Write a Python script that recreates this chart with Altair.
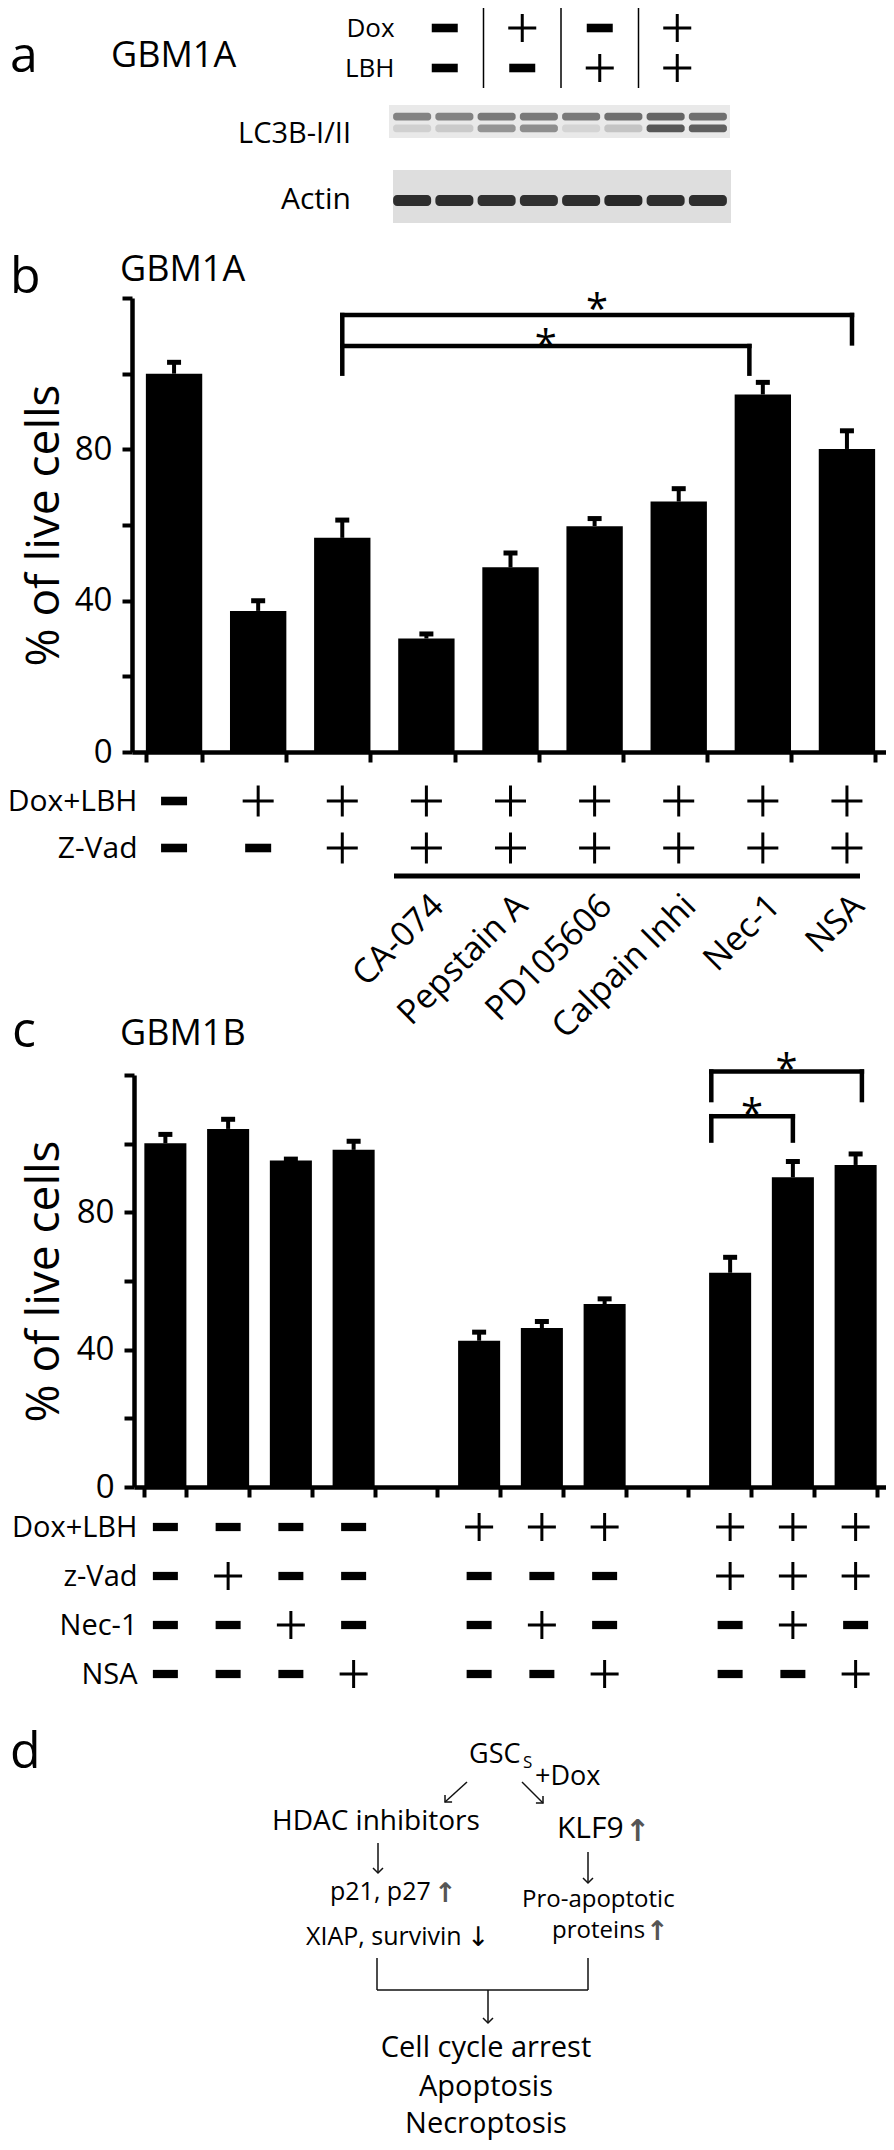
import altair as alt
import pandas as pd

FONT = "Open Sans"
ARROW_FONT = "DejaVu Sans"
W, H = 878, 2134
MARGIN = 8


def g(v):
    """page pixel -> chart pixel"""
    return v - MARGIN


# ======================= DATA =======================
# panel a : western blot
a_columns = ["c1", "c2", "c3", "c4"]
a_dox = ["-", "+", "-", "+"]
a_lbh = ["-", "-", "+", "+"]
a_lanes = [1, 2, 3, 4, 5, 6, 7, 8]
lc3b_i_density = [0.50, 0.50, 0.55, 0.55, 0.55, 0.60, 0.65, 0.60]
lc3b_ii_density = [0.12, 0.15, 0.42, 0.45, 0.10, 0.18, 0.72, 0.68]
actin_density = [0.92, 0.92, 0.90, 0.90, 0.92, 0.95, 0.92, 0.92]

# panel b : GBM1A
b_conditions = ["Control", "Dox+LBH", "Dox+LBH+Z-Vad", "CA-074", "Pepstain A",
                "PD105606", "Calpain Inhi", "Nec-1", "NSA"]
b_live = [100.0, 37.3, 56.6, 30.0, 48.8, 59.7, 66.2, 94.5, 80.1]
b_err = [3.0, 2.7, 4.7, 1.2, 3.8, 2.0, 3.4, 3.2, 4.8]
b_dox_lbh = ["-", "+", "+", "+", "+", "+", "+", "+", "+"]
b_zvad = ["-", "-", "+", "+", "+", "+", "+", "+", "+"]
b_inhibitor = ["", "", "", "CA-074", "Pepstain A", "PD105606", "Calpain Inhi", "Nec-1", "NSA"]
# (from, to, bracket top, leg bottom, star height)
b_brackets = [("Dox+LBH+Z-Vad", "NSA", 115.5, 108.0, 119.5),
              ("Dox+LBH+Z-Vad", "Nec-1", 107.3, 100.0, 110.0)]

# panel c : GBM1B
c_conditions = ["Ctrl", "zVad", "Nec1", "NSA", "gap1", "DL", "DL+Nec1", "DL+NSA",
                "gap2", "DL+zVad", "DL+zVad+Nec1", "DL+zVad+NSA"]
c_live = [100.1, 104.3, 95.1, 98.2, None, 42.6, 46.3, 53.3, None, 62.4, 90.2, 93.8]
c_err = [2.6, 2.8, 0.4, 2.5, None, 2.5, 1.9, 1.5, None, 4.5, 4.6, 3.2]
c_dox_lbh = ["-", "-", "-", "-", "", "+", "+", "+", "", "+", "+", "+"]
c_zvad = ["-", "+", "-", "-", "", "-", "-", "-", "", "+", "+", "+"]
c_nec1 = ["-", "-", "+", "-", "", "-", "+", "-", "", "-", "+", "-"]
c_nsa = ["-", "-", "-", "+", "", "-", "-", "+", "", "-", "-", "+"]
c_brackets = [("DL+zVad", "DL+zVad+NSA", 121.0, 112.7, 124.4),
              ("DL+zVad", "DL+zVad+Nec1", 108.0, 100.9, 111.3)]

# ======================= HELPERS =======================
PLUS_PATH = "M-1,0L1,0M0,-1L0,1"
HEAD_PATH = "M-1,-1L0,0L1,-1"


def minus_path(r=0.33):
    return f"M-1,{-r}L1,{-r}L1,{r}L-1,{r}Z"


def text_layer(rows, align="left", baseline="alphabetic", font=FONT, weight="normal", color="black"):
    df = pd.DataFrame(rows, columns=["t", "px", "py", "fs"])
    df["gx"] = df["px"] - MARGIN
    df["gy"] = df["py"] - MARGIN
    return alt.Chart(df).mark_text(align=align, baseline=baseline, font=font,
                                   fontWeight=weight, color=color).encode(
        x=alt.X("gx:Q", scale=None, axis=None),
        y=alt.Y("gy:Q", scale=None, axis=None),
        text="t:N",
        size=alt.Size("fs:Q", scale=None),
    )


def sign_table(cats, rows, x_range, y_range, label_x, plus_w, minus_w, label_size):
    recs = []
    for name, signs in rows:
        for c, s in zip(cats, signs):
            recs.append({"cond": c, "row": name, "sign": s})
    df = pd.DataFrame(recs)
    xs = alt.Scale(domain=cats, range=[g(x_range[0]), g(x_range[1])], paddingInner=0, paddingOuter=0)
    ys = alt.Scale(domain=[r[0] for r in rows], range=[g(y_range[0]), g(y_range[1])],
                   paddingInner=0, paddingOuter=0)
    label_axis = alt.Axis(orient="left", offset=-g(label_x), domain=False, ticks=False, tickSize=0,
                          labelPadding=0, labelFontSize=label_size, labelFont=FONT,
                          labelColor="black", title=None, labelLimit=0)
    base = alt.Chart(df)
    minus = base.transform_filter("datum.sign == '-'").mark_point(
        shape=minus_path(), filled=True, size=minus_w ** 2, color="black", opacity=1, strokeWidth=0
    ).encode(x=alt.X("cond:N", scale=xs, axis=None), y=alt.Y("row:N", scale=ys, axis=label_axis))
    plus = base.transform_filter("datum.sign == '+'").mark_point(
        shape=PLUS_PATH, filled=False, size=plus_w ** 2, color="black", opacity=1, strokeWidth=3
    ).encode(x=alt.X("cond:N", scale=xs, axis=None), y=alt.Y("row:N", scale=ys, axis=None))
    return [minus, plus], xs


def bar_panel(cats, live, err, brackets, nudges, L):
    xr = [g(L["axis_x"]), g(L["x_end"])]
    yr = [g(L["y0"]), g(L["y120"])]
    xs = alt.Scale(domain=cats, range=xr, paddingInner=0.33, paddingOuter=0.165)
    xq = alt.Scale(domain=[0, len(cats)], range=xr, nice=False, zero=False)
    ys = alt.Scale(domain=[0, 120], range=yr, nice=False, zero=False)
    df = pd.DataFrame({"cond": cats, "live": live, "err": err}).dropna()
    df["hi"] = df["live"] + df["err"]

    yaxis = alt.Axis(orient="left", offset=-g(L["axis_x"]), values=list(range(0, 121, 20)),
                     labelExpr="datum.value % 40 == 0 && datum.value < 120 ? datum.label : ''",
                     labelFontSize=33, labelPadding=10, tickSize=10, tickWidth=4, domainWidth=4.5,
                     title="% of live cells", titleFontSize=46, titleFontWeight="normal",
                     titleAngle=270, titleAlign="center", titleBaseline="alphabetic",
                     titleX=-(L["axis_x"] - 58), titleY=g((L["y0"] + L["y120"]) / 2), grid=False)
    xaxis = alt.Axis(orient="bottom", offset=g(L["y0"]) - H, labels=False, tickBand="extent",
                     tickSize=10, tickWidth=4, domainWidth=4.5, title=None, grid=False)

    bars = alt.Chart(df).mark_bar(color="black").encode(
        x=alt.X("cond:N", scale=xs, axis=xaxis),
        y=alt.Y("live:Q", scale=ys, axis=yaxis),
    )
    stems = alt.Chart(df).mark_rule(color="black", strokeWidth=4).encode(
        x=alt.X("cond:N", scale=xs, axis=None),
        y=alt.Y("live:Q", scale=ys, axis=None),
        y2="hi:Q",
    )
    caps = alt.Chart(df).mark_tick(color="black", thickness=5, size=14, opacity=1).encode(
        x=alt.X("cond:N", scale=xs, axis=None),
        y=alt.Y("hi:Q", scale=ys, axis=None),
    )

    segs, stars = [], []
    for (left, right, top, bottom, star), (nl, nr) in zip(brackets, nudges):
        xl = cats.index(left) + 0.5 + nl
        xr_ = cats.index(right) + 0.5 + nr
        segs.append({"x1": xl, "x2": xr_, "y1": top, "y2": top})
        segs.append({"x1": xl, "x2": xl, "y1": top, "y2": bottom})
        segs.append({"x1": xr_, "x2": xr_, "y1": top, "y2": bottom})
        stars.append({"x": (xl + xr_) / 2, "y": star, "t": "*"})
    seg_layer = alt.Chart(pd.DataFrame(segs)).mark_rule(color="black", strokeWidth=4.5, strokeCap="square").encode(
        x=alt.X("x1:Q", scale=xq, axis=None), x2="x2:Q",
        y=alt.Y("y1:Q", scale=ys, axis=None), y2="y2:Q",
    )
    star_layer = alt.Chart(pd.DataFrame(stars)).mark_text(
        font=FONT, fontSize=40, color="black", align="center", baseline="alphabetic", dy=23
    ).encode(
        x=alt.X("x:Q", scale=xq, axis=None),
        y=alt.Y("y:Q", scale=ys, axis=None),
        text="t:N",
    )
    return [bars, stems, caps, seg_layer, star_layer], xs


layers = []

# ======================= PANEL A =======================
one = pd.DataFrame({"k": [0]})
layers.append(alt.Chart(one).mark_rect(color="#e9e9e9").encode(
    x=alt.value(g(389)), x2=alt.value(g(730)), y=alt.value(g(105)), y2=alt.value(g(138))))
layers.append(alt.Chart(one).mark_rect(color="#dedede").encode(
    x=alt.value(g(393)), x2=alt.value(g(731)), y=alt.value(g(170)), y2=alt.value(g(223))))

lane_scale = alt.Scale(domain=a_lanes, range=[g(391), g(729)], paddingInner=0.1, paddingOuter=0.05)
lc3b_df = pd.DataFrame(
    [{"lane": l, "band": "LC3B-I", "d": d} for l, d in zip(a_lanes, lc3b_i_density)]
    + [{"lane": l, "band": "LC3B-II", "d": d} for l, d in zip(a_lanes, lc3b_ii_density)]
)
layers.append(alt.Chart(lc3b_df).mark_rect(color="#1e1e1e", cornerRadius=3).encode(
    x=alt.X("lane:O", scale=lane_scale, axis=None),
    y=alt.Y("band:N", scale=alt.Scale(domain=["LC3B-I", "LC3B-II"], range=[g(111), g(134)],
                                      paddingInner=0.35, paddingOuter=0.15), axis=None),
    opacity=alt.Opacity("d:Q", scale=None),
))
actin_df = pd.DataFrame({"lane": a_lanes, "band": "Actin", "d": actin_density})
layers.append(alt.Chart(actin_df).mark_rect(color="#1e1e1e", cornerRadius=4).encode(
    x=alt.X("lane:O", scale=lane_scale, axis=None),
    y=alt.Y("band:N", scale=alt.Scale(domain=["Actin"], range=[g(195), g(206)],
                                      paddingInner=0, paddingOuter=0), axis=None),
    opacity=alt.Opacity("d:Q", scale=None),
))

a_sign_layers, a_xs = sign_table(a_columns, [("Dox", a_dox), ("LBH", a_lbh)],
                                 (406, 716), (8, 88), 394, 28, 26, 26)
layers += a_sign_layers
layers.append(alt.Chart(pd.DataFrame({"col": a_columns[:-1]})).mark_rule(color="black", strokeWidth=1.5).encode(
    x=alt.X("col:N", scale=a_xs, axis=None, bandPosition=1),
    y=alt.value(g(0)), y2=alt.value(g(88)),
))

# ======================= PANEL B =======================
LB = dict(axis_x=132, x_end=889, y0=752, y120=298)
b_layers, b_xs = bar_panel(b_conditions, b_live, b_err, b_brackets, [(0, 0.06), (0, -0.16)], LB)
layers += b_layers
b_tab, _ = sign_table(b_conditions, [("Dox+LBH", b_dox_lbh), ("Z-Vad", b_zvad)],
                      (132, 889), (777.5, 871.5), 137, 31, 26, 30)
layers += b_tab
layers.append(alt.Chart(one).mark_rule(color="black", strokeWidth=5).encode(
    x=alt.value(g(394)), x2=alt.value(g(860)), y=alt.value(g(876))))
inh_df = pd.DataFrame({"cond": b_conditions, "label": b_inhibitor})
inh_df = inh_df[inh_df["label"] != ""]
layers.append(alt.Chart(inh_df).mark_text(
    font=FONT, fontSize=34, color="black", angle=315, align="right", baseline="middle", xOffset=12
).encode(
    x=alt.X("cond:N", scale=b_xs, axis=None),
    y=alt.value(g(901)),
    text="label:N",
))

# ======================= PANEL C =======================
LC = dict(axis_x=134, x_end=887, y0=1487, y120=1075)
c_layers, c_xs = bar_panel(c_conditions, c_live, c_err, c_brackets, [(-0.3, 0.1), (-0.3, 0.0)], LC)
layers += c_layers
c_tab, _ = sign_table(c_conditions,
                      [("Dox+LBH", c_dox_lbh), ("z-Vad", c_zvad), ("Nec-1", c_nec1), ("NSA", c_nsa)],
                      (134, 887), (1502.5, 1698.5), 137, 28, 25, 29)
layers += c_tab

# ======================= TEXT LABELS =======================
layers.append(text_layer([
    ("a", 10, 72, 50), ("b", 10, 293, 50), ("c", 12, 1047, 50), ("d", 10, 1768, 50),
    ("GBM1A", 111, 67, 36), ("GBM1A", 120, 281, 36), ("GBM1B", 120, 1045, 36),
]))
layers.append(text_layer([("LC3B-I/II", 351, 134, 29), ("Actin", 351, 200, 30)],
                         align="right", baseline="middle"))

# ======================= PANEL D (diagram) =======================
layers.append(text_layer([
    ("GSC", 469, 1763, 27), ("S", 523, 1768, 17), ("+Dox", 535, 1785, 27),
    ("HDAC inhibitors", 272, 1830, 28), ("KLF9", 557, 1838, 30),
    ("p21, p27", 330, 1900, 25), ("XIAP, survivin", 306, 1945, 25),
    ("Pro-apoptotic", 522, 1907, 24), ("proteins", 552, 1938, 24),
]))
layers.append(text_layer([
    ("Cell cycle arrest", 486, 2057, 29), ("Apoptosis", 486, 2096, 29), ("Necroptosis", 486, 2133, 29),
], align="center"))
layers.append(text_layer([("\u2191", 625, 1841, 30), ("\u2191", 434, 1902, 27), ("\u2191", 646, 1940, 27)],
                         font=ARROW_FONT, weight="bold", color="#555555"))
layers.append(text_layer([("\u2193", 467, 1946, 27)], font=ARROW_FONT, color="black"))

line_rows = [
    (467, 1782, 445, 1802), (522, 1782, 543, 1803),
    (378, 1843, 378, 1873), (588, 1852, 588, 1883),
    (377, 1958, 377, 1990), (588, 1958, 588, 1990), (377, 1990, 588, 1990),
    (488, 1990, 488, 2023),
]
lines_df = pd.DataFrame(line_rows, columns=["x1", "y1", "x2", "y2"]) - MARGIN
layers.append(alt.Chart(lines_df).mark_rule(color="#111111", strokeWidth=1.5).encode(
    x=alt.X("x1:Q", scale=None, axis=None), x2="x2:Q",
    y=alt.Y("y1:Q", scale=None, axis=None), y2="y2:Q",
))
heads_df = pd.DataFrame([(445, 1802, 45), (543, 1803, 315), (378, 1873, 0), (588, 1883, 0), (488, 2023, 0)],
                        columns=["x", "y", "a"])
heads_df["x"] = heads_df["x"] - MARGIN
heads_df["y"] = heads_df["y"] - MARGIN
layers.append(alt.Chart(heads_df).mark_point(shape=HEAD_PATH, filled=False, size=100, color="#111111",
                                             strokeWidth=1.5, opacity=1).encode(
    x=alt.X("x:Q", scale=None, axis=None),
    y=alt.Y("y:Q", scale=None, axis=None),
    angle=alt.Angle("a:Q", scale=None),
))

chart = alt.layer(*layers).properties(
    width=W, height=H, autosize="none", padding=0
).resolve_scale(
    x="independent", y="independent", size="independent", opacity="independent", angle="independent"
).resolve_axis(
    x="independent", y="independent"
).configure_view(stroke=None).configure_axis(
    grid=False, domainColor="black", tickColor="black", labelColor="black", titleColor="black",
    labelFont=FONT, titleFont=FONT
)

chart.save("out.html", embed_options={"renderer": "svg", "actions": False})
